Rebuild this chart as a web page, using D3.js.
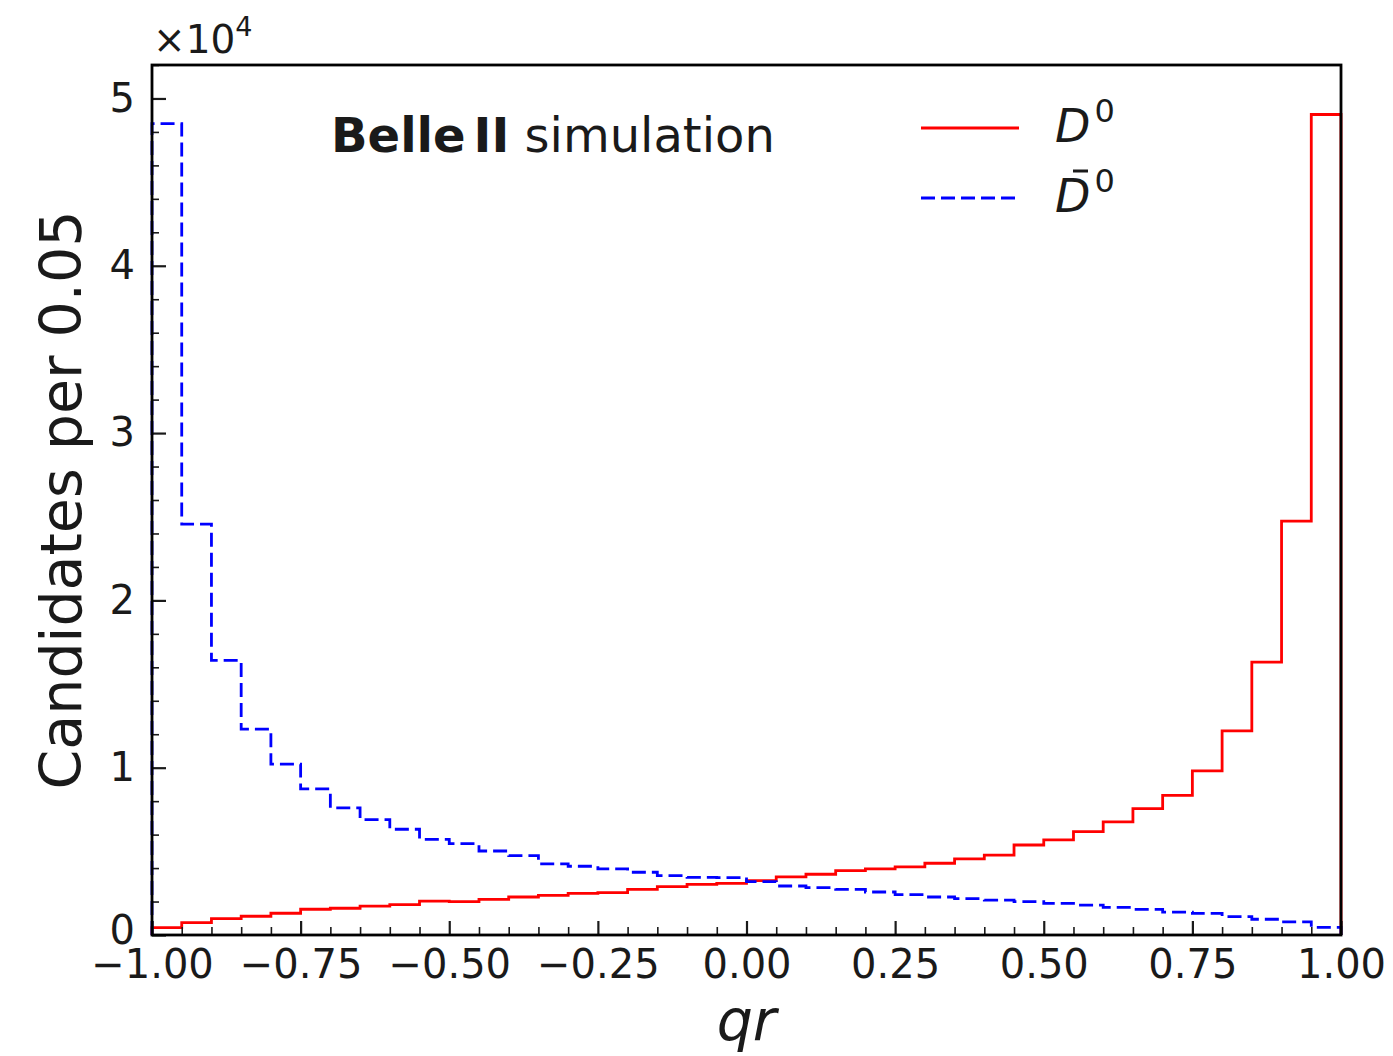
<!DOCTYPE html>
<html>
<head>
<meta charset="utf-8">
<script src="https://cdn.jsdelivr.net/npm/d3@7"></script>
<style>
  body { margin: 0; background: #fff; }
  text { font-family: "DejaVu Sans", sans-serif; fill: #1a1a1a; }
</style>
</head>
<body>
<div id="chart"></div>
<script>
// histogram: 40 bins of width 0.05 on [-1, 1]
const binLow = -1;
const binWidth = 0.05;

// candidates per bin
const d0Counts = [440, 740, 980, 1120, 1300, 1540, 1600, 1720, 1810, 2030,
                  1990, 2130, 2270, 2370, 2490, 2530, 2730, 2890, 3030, 3090,
                  3250, 3470, 3630, 3850, 3950, 4070, 4290, 4550, 4780, 5380,
                  5680, 6180, 6760, 7550, 8350, 9810, 12200, 16310, 24740, 49040];
const d0barCounts = [48500, 24560, 16410, 12300, 10210, 8730, 7600, 6900, 6320, 5720,
                     5460, 5020, 4740, 4250, 4110, 3950, 3750, 3550, 3450, 3430,
                     3190, 2930, 2830, 2730, 2570, 2410, 2270, 2170, 2090, 1990,
                     1890, 1790, 1650, 1530, 1370, 1290, 1100, 940, 780, 460];

const xMajorTicks = [-1, -0.75, -0.5, -0.25, 0, 0.25, 0.5, 0.75, 1];
const yMajorTicks = [0, 10000, 20000, 30000, 40000, 50000];

const width = 1393, height = 1056;
const margin = {left: 152, right: 52, top: 65, bottom: 121};

const svg = d3.select("#chart").append("svg")
    .attr("width", width)
    .attr("height", height);

const x = d3.scaleLinear().domain([-1, 1]).range([margin.left, width - margin.right]);
const y = d3.scaleLinear().domain([0, 52000]).range([height - margin.bottom, margin.top]);

const fmtX = d => d3.format(".2f")(d).replace("-", "\u2212");

// step outline like histtype="step"
function stepPoints(counts) {
    var pts = [[binLow, 0]];
    counts.forEach((c, i) => {
        pts.push([binLow + i * binWidth, c]);
        pts.push([binLow + (i + 1) * binWidth, c]);
    });
    pts.push([binLow + counts.length * binWidth, 0]);
    return pts;
}

const line = d3.line().x(d => x(d[0])).y(d => y(d[1]));

svg.append("path")
    .attr("d", line(stepPoints(d0Counts)))
    .attr("fill", "none")
    .attr("stroke", "#ff0000")
    .attr("stroke-width", 2.8);

svg.append("path")
    .attr("d", line(stepPoints(d0barCounts)))
    .attr("fill", "none")
    .attr("stroke", "#0000ff")
    .attr("stroke-width", 2.8)
    .attr("stroke-dasharray", "14,6");

// axes, ticks pointing inward
const xMinor = d3.range(0, 41).map(i => binLow + i * binWidth)
    .filter(v => !xMajorTicks.some(t => Math.abs(t - v) < 1e-9));
const yMinor = d3.range(0, 53000, 2000).filter(v => v % 10000 !== 0);

const gx = svg.append("g")
    .attr("transform", `translate(0,${y(0)})`)
    .call(d3.axisBottom(x).tickValues(xMajorTicks).tickFormat(fmtX).tickSize(-14).tickPadding(15));
const gxm = svg.append("g")
    .attr("transform", `translate(0,${y(0)})`)
    .call(d3.axisBottom(x).tickValues(xMinor).tickFormat("").tickSize(-8));

const gy = svg.append("g")
    .attr("transform", `translate(${x(-1)},0)`)
    .call(d3.axisLeft(y).tickValues(yMajorTicks).tickFormat(d => d / 10000).tickSize(-14).tickPadding(17));
const gym = svg.append("g")
    .attr("transform", `translate(${x(-1)},0)`)
    .call(d3.axisLeft(y).tickValues(yMinor).tickFormat("").tickSize(-7));

[gx, gxm, gy, gym].forEach(g => g.select(".domain").remove());
[gx, gy].forEach(g => {
    g.selectAll(".tick line").attr("stroke", "#1a1a1a").attr("stroke-width", 2.2);
    g.selectAll(".tick text").attr("font-size", 40).attr("fill", "#1a1a1a")
        .attr("font-family", "DejaVu Sans");
});
[gxm, gym].forEach(g => g.selectAll(".tick line").attr("stroke", "#1a1a1a").attr("stroke-width", 1.6));
// "0" on y sits just above the x labels, as in the original
gy.selectAll(".tick text").filter(d => d === 0).attr("dy", "0.2em");

// frame
svg.append("rect")
    .attr("x", x(-1)).attr("y", y(52000))
    .attr("width", x(1) - x(-1)).attr("height", y(0) - y(52000))
    .attr("fill", "none")
    .attr("stroke", "#000")
    .attr("stroke-width", 2.8);

// scale factor
const off = svg.append("text")
    .attr("x", 153).attr("y", 53)
    .attr("font-size", 39);
off.append("tspan").text("\u00d710");
off.append("tspan").attr("font-size", 27).attr("dy", -17).text("4");

// axis labels
svg.append("text")
    .attr("x", x(0)).attr("y", 1040)
    .attr("text-anchor", "middle")
    .attr("font-size", 57)
    .attr("font-style", "italic")
    .text("qr");

svg.append("text")
    .attr("transform", `translate(81,${(y(0) + y(52000)) / 2}) rotate(-90)`)
    .attr("text-anchor", "middle")
    .attr("font-size", 57)
    .text("Candidates per 0.05");

// Belle II label
const belle = svg.append("text")
    .attr("x", 331).attr("y", 152)
    .attr("font-size", 48);
belle.append("tspan").attr("font-weight", "bold").text("Belle");
belle.append("tspan").attr("font-weight", "bold").attr("dx", 8).text("II");
belle.append("tspan").attr("dx", 0).text(" simulation");

// legend
const legendItems = [
    {label: "D", bar: false, color: "#ff0000", dash: null, y: 128},
    {label: "D", bar: true, color: "#0000ff", dash: "14,6", y: 198}
];
legendItems.forEach(it => {
    svg.append("line")
        .attr("x1", 921).attr("x2", 1019)
        .attr("y1", it.y).attr("y2", it.y)
        .attr("stroke", it.color)
        .attr("stroke-width", 2.8)
        .attr("stroke-dasharray", it.dash);
    const t = svg.append("text")
        .attr("x", 1055).attr("y", it.y + 14)
        .attr("font-size", 46);
    t.append("tspan").attr("font-style", "italic").text(it.label);
    t.append("tspan").attr("font-size", 32).attr("dy", -20).attr("dx", 4).text("0");
    if (it.bar) {
        svg.append("line")
            .attr("x1", 1073).attr("x2", 1088)
            .attr("y1", it.y - 27).attr("y2", it.y - 27)
            .attr("stroke", "#1a1a1a")
            .attr("stroke-width", 3);
    }
});
</script>
</body>
</html>
